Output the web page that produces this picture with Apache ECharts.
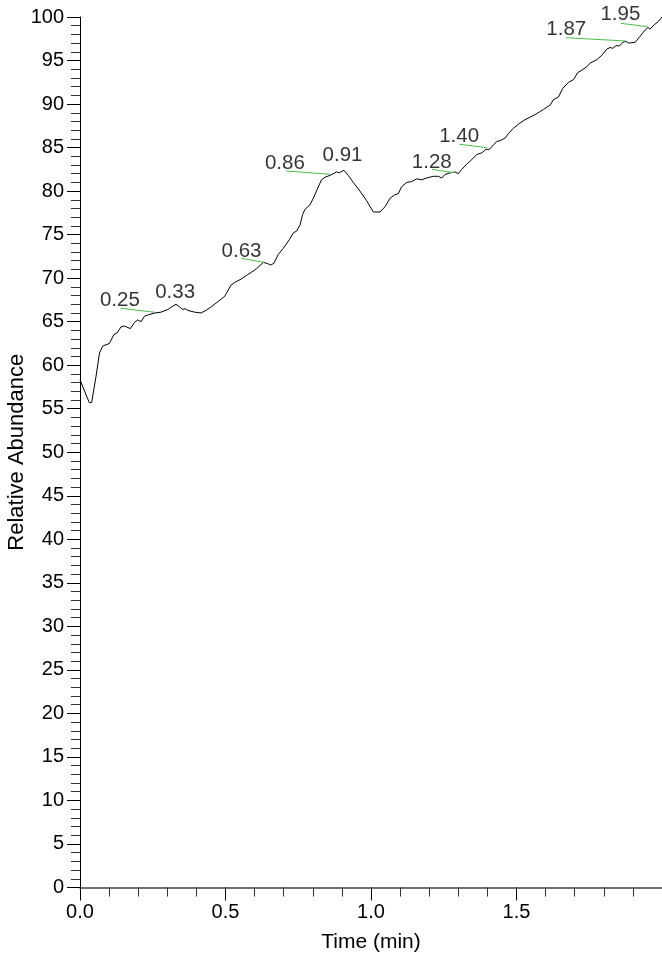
<!DOCTYPE html>
<html>
<head>
<meta charset="utf-8">
<script src="https://cdn.jsdelivr.net/npm/echarts@6/dist/echarts.min.js"></script>
<style>
html,body{margin:0;padding:0;background:#fff;}
#chart{width:662px;height:957px;}
</style>
</head>
<body>
<div id="chart"></div>
<script>
// Trace: retention time (min) and relative abundance (%)
var times = [
  0, 0.032, 0.040, 0.055, 0.067, 0.078, 0.101, 0.116, 0.127, 0.141,
  0.153, 0.173, 0.187, 0.198, 0.210, 0.221, 0.235, 0.258, 0.279, 0.302,
  0.315, 0.330, 0.342, 0.353, 0.361, 0.370, 0.393, 0.416, 0.433, 0.451,
  0.474, 0.497, 0.519, 0.531, 0.554, 0.576, 0.599, 0.607, 0.630, 0.643,
  0.655, 0.666, 0.681, 0.698, 0.719, 0.733, 0.744, 0.756, 0.765, 0.773,
  0.790, 0.802, 0.815, 0.830, 0.842, 0.859, 0.870, 0.882, 0.891, 0.907,
  0.922, 0.939, 0.962, 0.985, 1.008, 1.031, 1.048, 1.066, 1.083, 1.094,
  1.105, 1.123, 1.140, 1.157, 1.174, 1.191, 1.214, 1.231, 1.243, 1.254,
  1.272, 1.289, 1.300, 1.312, 1.329, 1.346, 1.363, 1.381, 1.395, 1.407,
  1.421, 1.432, 1.444, 1.461, 1.472, 1.489, 1.507, 1.529, 1.547, 1.570,
  1.593, 1.616, 1.627, 1.644, 1.659, 1.679, 1.696, 1.710, 1.725, 1.742,
  1.753, 1.776, 1.793, 1.810, 1.822, 1.831, 1.842, 1.854, 1.866, 1.876,
  1.885, 1.908, 1.925, 1.942, 1.952, 1.959, 1.973, 1.988, 2.0
];
var abundance = [
  58.3, 55.7, 55.7, 58.7, 61.4, 62.2, 62.5, 63.5, 63.7, 64.4,
  64.5, 64.2, 64.9, 65.2, 65.0, 65.6, 65.8, 66.0, 66.1, 66.4,
  66.7, 67.0, 66.7, 66.4, 66.5, 66.3, 66.1, 66.0, 66.3, 66.7,
  67.3, 67.9, 69.2, 69.5, 69.9, 70.4, 70.9, 71.1, 71.8, 71.7,
  71.5, 71.7, 72.7, 73.4, 74.4, 75.2, 75.4, 76.1, 77.3, 77.9,
  78.4, 79.2, 80.2, 81.3, 81.6, 81.8, 82.0, 82.2, 82.1, 82.4,
  81.8, 81.0, 80.0, 78.9, 77.6, 77.6, 78.2, 79.2, 79.6, 79.7,
  80.5, 81.0, 81.1, 81.4, 81.3, 81.5, 81.7, 81.7, 81.5, 81.9,
  82.1, 82.2, 82.0, 82.5, 83.1, 83.6, 84.2, 84.4, 84.8, 84.8,
  85.3, 85.7, 85.8, 86.1, 86.6, 87.2, 87.7, 88.2, 88.5, 88.9,
  89.4, 89.9, 90.5, 90.8, 91.8, 92.5, 92.8, 93.6, 93.9, 94.3,
  94.7, 95.1, 95.6, 96.3, 96.5, 96.4, 96.7, 96.7, 97.1, 97.2,
  97.0, 97.1, 97.8, 98.5, 98.8, 98.6, 99.1, 99.5, 100.0
];

// Peak annotation texts and their anchor (bottom-centre of the text) in data units
var annText  = ['0.25', '0.33', '0.63', '0.86', '0.91', '1.28', '1.40', '1.87', '1.95'];
var annTextT = [0.137, 0.327, 0.555, 0.704, 0.902, 1.209, 1.303, 1.671, 1.857];
var annTextV = [66.7, 67.6, 72.3, 82.4, 83.3, 82.6, 85.5, 97.8, 99.5];

// Green leader lines: from the label to the peak on the trace
var leadFromT = [0.140, 0.555, 0.708, 1.209, 1.304, 1.670, 1.859];
var leadFromV = [66.54, 72.28, 82.31, 82.50, 85.38, 97.62, 99.27];
var leadToT   = [0.257, 0.632, 0.859, 1.286, 1.398, 1.876, 1.950];
var leadToV   = [66.08, 71.82, 81.93, 82.11, 84.99, 97.24, 98.89];

// Axis ticks
var xMin = 0, xMax = 2.0, xStep = 0.5;
var yMin = 0, yMax = 100, yStep = 5;

var FONT = "'Liberation Sans', Arial, sans-serif";

var traceData = times.map(function (t, i) { return [t, abundance[i]]; });
var labelData = annTextT.map(function (t, i) { return [t, annTextV[i]]; });
var leadData = leadFromT.map(function (t, i) {
  return [{ coord: [t, leadFromV[i]] }, { coord: [leadToT[i], leadToV[i]] }];
});

var chart = echarts.init(document.getElementById('chart'), null, { renderer: 'canvas' });
chart.setOption({
  animation: false,
  backgroundColor: '#fff',
  grid: { left: 80, right: 0, top: 17, bottom: 69.5, containLabel: false, outerBoundsMode: 'none' },
  xAxis: {
    type: 'value', min: xMin, max: xMax, interval: xStep,
    name: 'Time (min)', nameLocation: 'middle', nameGap: 44, nameMoveOverlap: false,
    nameTextStyle: { fontFamily: FONT, fontSize: 21, color: '#000' },
    axisLine: { show: true, onZero: false, lineStyle: { color: '#444', width: 1.5 } },
    axisTick: { show: true, inside: false, length: 13, lineStyle: { color: '#000', width: 1 } },
    minorTick: { show: true, splitNumber: 5, length: 9, lineStyle: { color: '#333', width: 1 } },
    splitLine: { show: false },
    minorSplitLine: { show: false },
    axisLabel: {
      margin: 15, fontFamily: FONT, fontSize: 20, color: '#000', showMaxLabel: false,
      formatter: function (v) { return v.toFixed(1); }
    }
  },
  yAxis: {
    type: 'value', min: yMin, max: yMax, interval: yStep,
    name: 'Relative Abundance', nameLocation: 'middle', nameGap: 52, nameRotate: 90,
    nameMoveOverlap: false,
    nameTextStyle: { fontFamily: FONT, fontSize: 22, color: '#000' },
    axisLine: { show: true, onZero: false, lineStyle: { color: '#000', width: 1 } },
    axisTick: { show: true, inside: false, length: 13, lineStyle: { color: '#000', width: 1 } },
    minorTick: { show: true, splitNumber: 5, length: 9, lineStyle: { color: '#333', width: 1 } },
    splitLine: { show: false },
    minorSplitLine: { show: false },
    axisLabel: { margin: 16, fontFamily: FONT, fontSize: 20, color: '#000' }
  },
  series: [
    {
      type: 'line',
      data: traceData,
      showSymbol: false,
      symbol: 'none',
      smooth: false,
      lineStyle: { color: '#000', width: 1 },
      silent: true,
      z: 3,
      markLine: {
        silent: true,
        symbol: ['none', 'none'],
        label: { show: false },
        lineStyle: { color: '#4cbb4c', width: 1, type: 'solid' },
        emphasis: { disabled: true },
        data: leadData
      }
    },
    {
      type: 'scatter',
      data: labelData,
      symbolSize: 0.1,
      itemStyle: { color: 'rgba(0,0,0,0)' },
      silent: true,
      z: 4,
      label: {
        show: true, position: 'top', distance: -4,
        fontFamily: FONT, fontSize: 20.5, color: '#000',
        formatter: function (p) { return annText[p.dataIndex]; }
      }
    }
  ]
});
</script>
</body>
</html>
